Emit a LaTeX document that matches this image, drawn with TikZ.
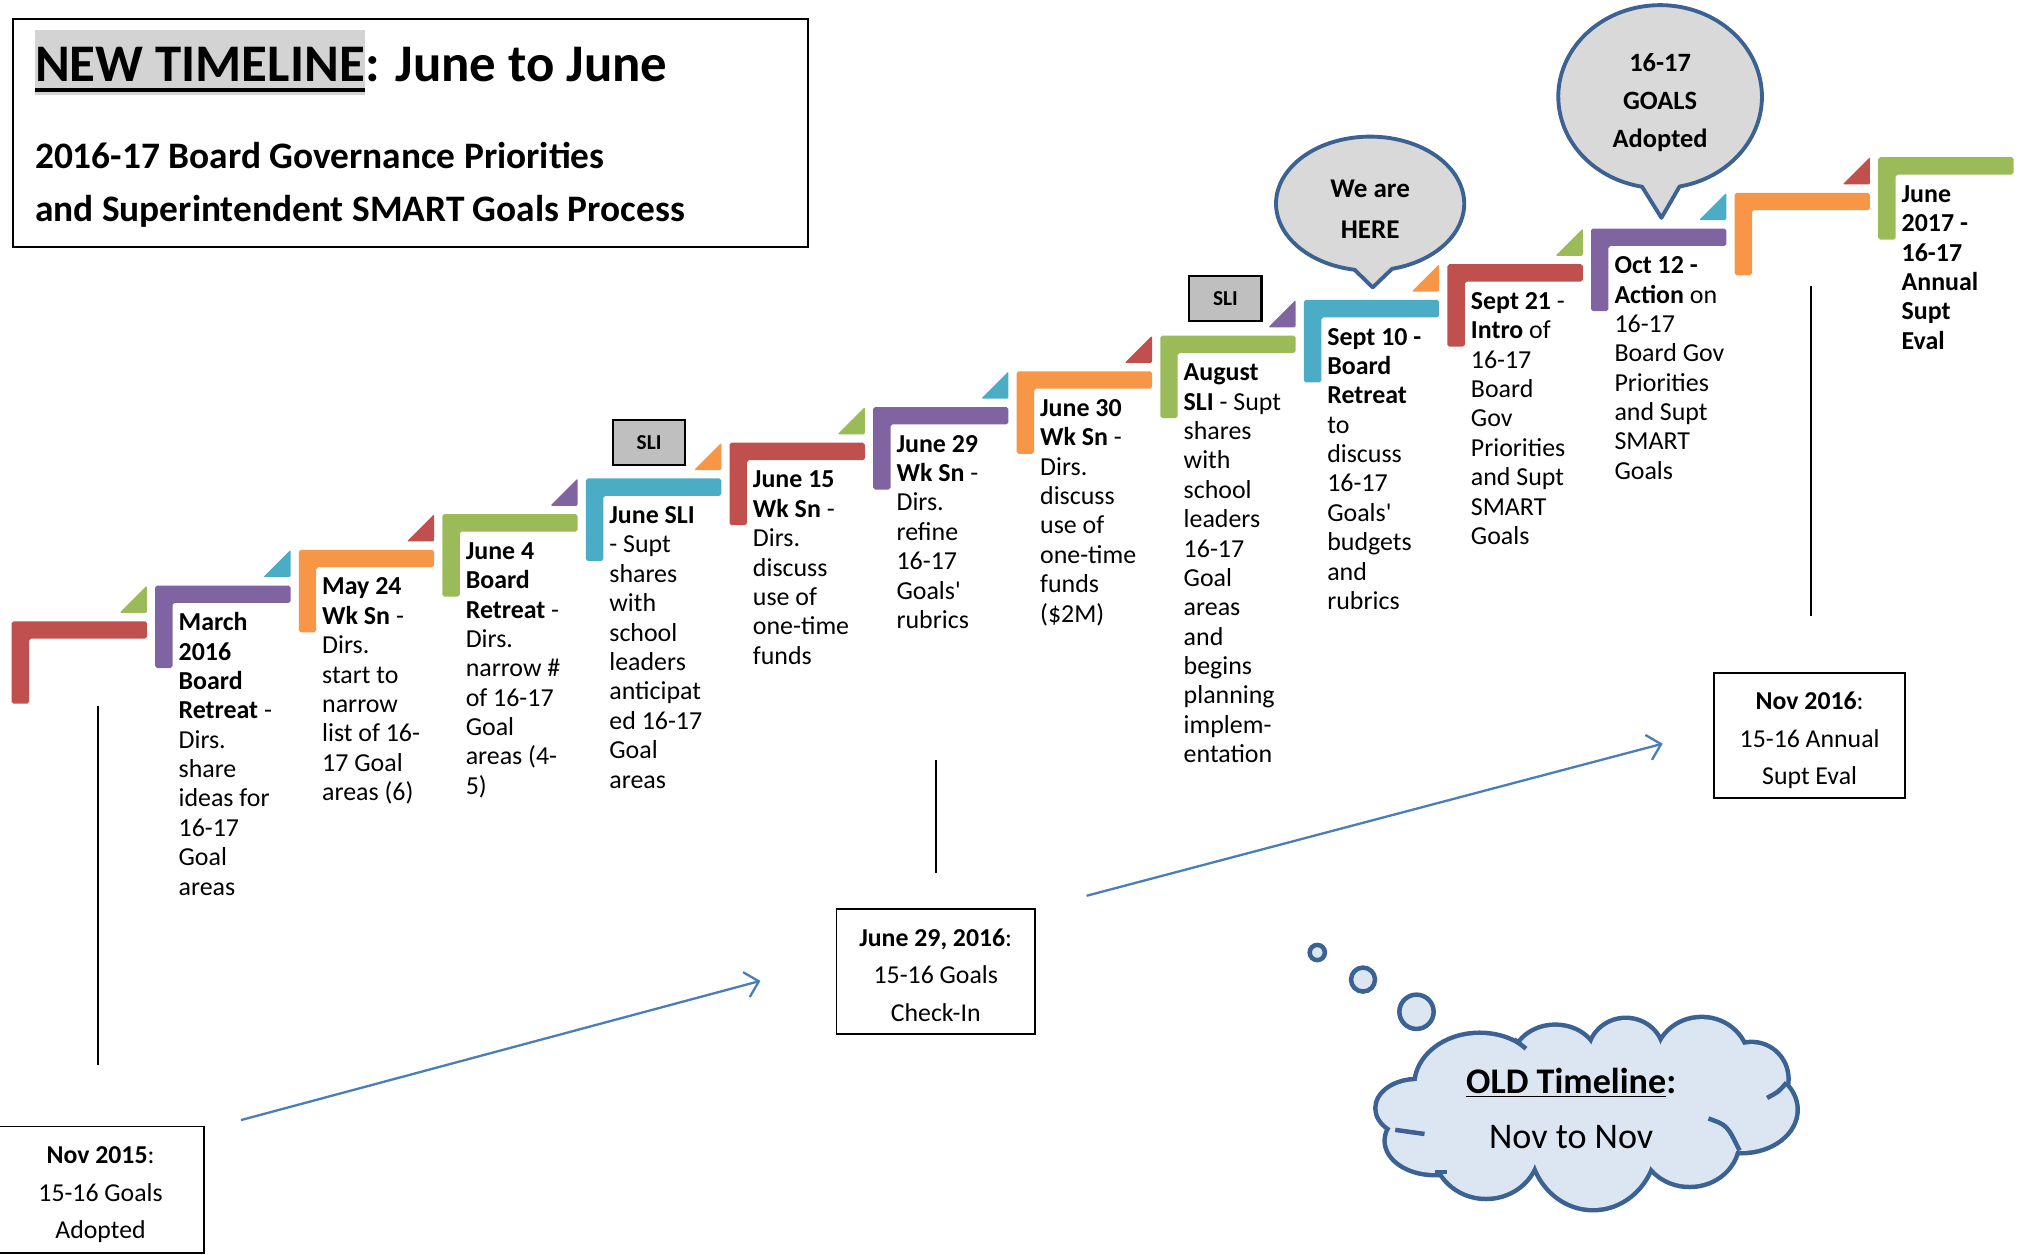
\documentclass[tikz,border=0pt]{standalone}
\usepackage{fontspec}
\setmainfont{Carlito}
\usetikzlibrary{arrows.meta}
\definecolor{stepred}{HTML}{C0504D}
\definecolor{steppurple}{HTML}{8064A2}
\definecolor{steporange}{HTML}{F79646}
\definecolor{stepgreen}{HTML}{9BBB59}
\definecolor{stepcyan}{HTML}{4BACC6}
\definecolor{calloutfill}{HTML}{D9D9D9}
\definecolor{outlineblue}{HTML}{3B6292}
\definecolor{cloudfill}{HTML}{DCE6F2}
\definecolor{sligrey}{HTML}{BFBFBF}
\definecolor{hlgrey}{HTML}{D3D3D3}
\definecolor{arrowblue}{HTML}{4A7EBB}
\newcommand{\stacklines}[1]{\begin{tabular}[t]{@{}l@{}}#1\end{tabular}}
\newcommand{\apos}{\textquotesingle}

\begin{document}
\begin{tikzpicture}[x=1pt,y=-1pt,
  steptext/.style={anchor=base west, inner sep=0pt, font=\fontsize{20.1}{22.8}\selectfont},
  slibox/.style={draw=black, line width=1.8pt, fill=sligrey, minimum width=56pt, minimum height=35pt, inner sep=0pt, font=\bfseries\fontsize{16.5}{18}\selectfont},
  datebox/.style={draw=black, line width=1.5pt, fill=white, inner sep=0pt},
  datetext/.style={align=center, inner sep=0pt, font=\fontsize{20}{29}\selectfont},
  vline/.style={line width=1.5pt, black},
  blueline/.style={arrowblue, line width=1.8pt, -{Straight Barb[length=10pt,width=20pt,line width=1.8pt]}},
  bubble/.style={fill=calloutfill, draw=outlineblue, line width=3pt, line join=round},
  cloudline/.style={draw=outlineblue, line width=3.5pt, fill=cloudfill},
  ]
\useasboundingbox (0,0) rectangle (1568,973);

% ---------- title box ----------
\draw[line width=1.5pt] (10,15) rectangle (627,192);
\node[anchor=base west, inner sep=0pt, fill=hlgrey, text height=40pt, text depth=11pt,
      font=\bfseries\fontsize{41}{48}\selectfont] (ttlA) at (27,63) {NEW TIMELINE};
\node[anchor=base west, inner sep=0pt, font=\bfseries\fontsize{41}{48}\selectfont] (ttlB) at (ttlA.base east) {: June to June};
\draw[line width=2.6pt] ([yshift=-6.8pt]ttlA.base west) -- ([yshift=-6.8pt]ttlA.base east);
\node[anchor=base west, inner sep=0pt, font=\bfseries\fontsize{29}{41}\selectfont] (sub) at (27,131)
  {\stacklines{2016-17 Board Governance Priorities\\and Superintendent SMART Goals Process}};

% ---------- staircase of L-shaped steps ----------
\foreach \i/\c in {0/stepred,1/steppurple,2/steporange,3/stepgreen,4/stepcyan,5/stepred,6/steppurple,
                   7/steporange,8/stepgreen,9/stepcyan,10/stepred,11/steppurple,12/steporange,13/stepgreen}{
  \coordinate (s\i) at ({9+111.4*\i},{482-27.7*\i});
  \fill[\c, rounded corners=1.5pt] (s\i) ++(0,64) -- ++(0,-64) -- ++(105,0) -- ++(0,13.5) -- ++(-91.5,0) -- ++(0,50.5) -- cycle;
}
% small corner triangles between steps
\foreach \i/\c in {0/stepgreen,1/stepcyan,2/stepred,3/steppurple,4/steporange,5/stepgreen,6/stepcyan,
                   7/stepred,8/steppurple,9/steporange,10/stepgreen,11/stepcyan,12/stepred}{
  \fill[\c, rounded corners=1pt] ([shift={(83.8,-6.5)}]s\i) -- ++(21.2,0) -- ++(0,-21.2) -- cycle;
}

% ---------- step texts ----------
\node[steptext] (t1) at ([shift={(18,35)}]s1) {\stacklines{\textbf{March}\\\textbf{2016}\\\textbf{Board}\\\textbf{Retreat} -\\Dirs.\\share\\ideas for\\16-17\\Goal\\areas}};
\node[steptext] (t2) at ([shift={(18,35)}]s2) {\stacklines{\textbf{May 24}\\\textbf{Wk Sn} -\\Dirs.\\start to\\narrow\\list of 16-\\17 Goal\\areas (6)}};
\node[steptext] (t3) at ([shift={(18,35)}]s3) {\stacklines{\textbf{June 4}\\\textbf{Board}\\\textbf{Retreat} -\\Dirs.\\narrow \#\\of 16-17\\Goal\\areas (4-\\5)}};
\node[steptext] (t4) at ([shift={(18,35)}]s4) {\stacklines{\textbf{June SLI}\\- Supt\\shares\\with\\school\\leaders\\anticipat\\ed 16-17\\Goal\\areas}};
\node[steptext] (t5) at ([shift={(18,35)}]s5) {\stacklines{\textbf{June 15}\\\textbf{Wk Sn} -\\Dirs.\\discuss\\use of\\one-time\\funds}};
\node[steptext] (t6) at ([shift={(18,35)}]s6) {\stacklines{\textbf{June 29}\\\textbf{Wk Sn} -\\Dirs.\\refine\\16-17\\Goals\apos\\rubrics}};
\node[steptext] (t7) at ([shift={(18,35)}]s7) {\stacklines{\textbf{June 30}\\\textbf{Wk Sn} -\\Dirs.\\discuss\\use of\\one-time\\funds\\(\$2M)}};
\node[steptext] (t8) at ([shift={(18,35)}]s8) {\stacklines{\textbf{August}\\\textbf{SLI} - Supt\\shares\\with\\school\\leaders\\16-17\\Goal\\areas\\and\\begins\\planning\\implem-\\entation}};
\node[steptext] (t9) at ([shift={(18,35)}]s9) {\stacklines{\textbf{Sept 10 -}\\\textbf{Board}\\\textbf{Retreat}\\to\\discuss\\16-17\\Goals\apos\\budgets\\and\\rubrics}};
\node[steptext] (t10) at ([shift={(18,35)}]s10) {\stacklines{\textbf{Sept 21} -\\\textbf{Intro} of\\16-17\\Board\\Gov\\Priorities\\and Supt\\SMART\\Goals}};
\node[steptext] (t11) at ([shift={(18,35)}]s11) {\stacklines{\textbf{Oct 12 -}\\\textbf{Action} on\\16-17\\Board Gov\\Priorities\\and Supt\\SMART\\Goals}};
\node[steptext] (t13) at ([shift={(18,35)}]s13) {\stacklines{\textbf{June}\\\textbf{2017 -}\\\textbf{16-17}\\\textbf{Annual}\\\textbf{Supt}\\\textbf{Eval}}};

% ---------- SLI tags ----------
\node[slibox] (sliA) at ([shift={(49,-28)}]s4) {SLI};
\node[slibox] (sliB) at ([shift={(50.5,-29)}]s8) {SLI};

% ---------- speech callouts ----------
\coordinate (hereC) at (1063,158);
\coordinate (hereTip) at (1065,223);
\draw[bubble] (hereTip) -- ([shift={(hereC)}]76.5:73 and 52)
  arc[start angle=76.5, end angle=-260.5, x radius=73, y radius=52] -- cycle;
\node[align=center, font=\bfseries\fontsize{21}{32}\selectfont] (hereTxt) at (1063,162.5) {We are\\HERE};

\coordinate (goalsC) at (1288,75);
\coordinate (goalsTip) at (1289,169);
\draw[bubble] (goalsTip) -- ([shift={(goalsC)}]79:79 and 71)
  arc[start angle=79, end angle=-259.8, x radius=79, y radius=71] -- cycle;
\node[align=center, font=\bfseries\fontsize{20.5}{29.5}\selectfont] (goalsTxt) at (1288,79.5) {16-17\\GOALS\\Adopted};

% ---------- old-timeline boxes, leader lines and arrows ----------
\node[datebox, minimum width=160pt, minimum height=98pt] (nov15) at (78,923) {};
\node[datetext] (nov15txt) at ([yshift=-4pt]nov15.center) {\textbf{Nov 2015}:\\15-16 Goals\\Adopted};
\node[datebox, minimum width=154pt, minimum height=97pt] (jun16) at (726,753.5) {};
\node[datetext] (jun16txt) at ([yshift=-3pt]jun16.center) {\textbf{June 29, 2016}:\\15-16 Goals\\Check-In};
\node[datebox, minimum width=148pt, minimum height=97pt] (nov16) at (1404,570.5) {};
\node[datetext] (nov16txt) at ([yshift=-4pt]nov16.center) {\textbf{Nov 2016}:\\15-16 Annual\\Supt Eval};

\coordinate (v1a) at (76,548);   \coordinate (v1b) at (76,826);
\coordinate (v2a) at (726,590);  \coordinate (v2b) at (726,677);
\coordinate (v3a) at (1405,222); \coordinate (v3b) at (1405,478);
\draw[vline] (v1a) -- (v1b);
\draw[vline] (v2a) -- (v2b);
\draw[vline] (v3a) -- (v3b);

\coordinate (a1s) at (187,869);  \coordinate (a1e) at (590,761);
\coordinate (a2s) at (843,695);  \coordinate (a2e) at (1290,577);
\draw[blueline] (a1s) -- (a1e);
\draw[blueline] (a2s) -- (a2e);

% ---------- thought cloud ----------
\begin{scope}
  \foreach \cx/\cy/\rx/\ry in {1099.8/859.8/31/21, 1113/885/37/25, 1148/842/49/39, 1206.7/823.7/32/27,
      1261.4/818.4/28/27, 1320.2/823.7/35/33, 1358.9/837.1/27/27, 1351/861/42/32,
      1310.9/885.2/37/34, 1236/885.2/48/52, 1153/890.5/40/38}{
    \draw[outlineblue, line width=7pt] (\cx,\cy) ellipse [x radius=\rx, y radius=\ry];
  }
  \foreach \cx/\cy/\rx/\ry in {1099.8/859.8/31/21, 1113/885/37/25, 1148/842/49/39, 1206.7/823.7/32/27,
      1261.4/818.4/28/27, 1320.2/823.7/35/33, 1358.9/837.1/27/27, 1351/861/42/32,
      1310.9/885.2/37/34, 1236/885.2/48/52, 1153/890.5/40/38, 1233/858.5/120/48}{
    \fill[cloudfill] (\cx,\cy) ellipse [x radius=\rx, y radius=\ry];
  }
\end{scope}
% short inner strokes where the puffs meet
\draw[outlineblue, line width=3.5pt] (1325.5,867.8) .. controls (1340,873) .. (1349.6,892.6);
\draw[outlineblue, line width=3.5pt] (1371,851.8) .. controls (1380,847) .. (1386,840);
\draw[outlineblue, line width=3.5pt] (1082.5,876.6) -- (1105.2,879.8);
\draw[outlineblue, line width=3.5pt] (1174.6,806.4) -- (1184,813.6);
\draw[outlineblue, line width=3.5pt] (1113.2,909.2) -- (1122.5,909.2);

\node[cloudline, circle, minimum size=11.8pt, inner sep=0pt] (bub1) at (1022,739) {};
\node[cloudline, circle, minimum size=18.6pt, inner sep=0pt] (bub2) at (1057.5,760) {};
\node[cloudline, circle, minimum size=26.6pt, inner sep=0pt] (bub3) at (1099,785) {};

\node[align=center, font=\fontsize{28}{42}\selectfont] (oldTxt) at (1219,860)
  {\textbf{\underline{OLD Timeline}:}\\Nov to Nov};
\end{tikzpicture}
\end{document}
